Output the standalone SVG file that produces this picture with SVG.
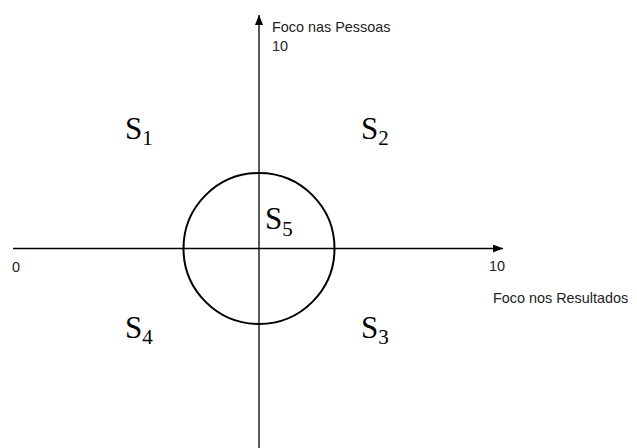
<svg xmlns="http://www.w3.org/2000/svg" width="637" height="448" viewBox="0 0 637 448">
<style>
.lbl{font-family:"Liberation Sans",Arial,sans-serif;font-size:14.4px;fill:#222}
.s{font-family:"Liberation Serif","DejaVu Serif",serif;font-size:31px;fill:#000}
.sub{font-size:21px}
.ax{stroke:#000;stroke-width:1.3;fill:none}
</style>
<defs>
<marker id="ah" markerWidth="10" markerHeight="8" refX="10" refY="4" orient="auto" markerUnits="userSpaceOnUse">
<path d="M0,0 L10,4 L0,8 Z" fill="#000"/>
</marker>
</defs>
<rect width="637" height="448" fill="#fff"/>
<g id="connectors">
<line class="ax" x1="13" y1="248.5" x2="503" y2="248.5" marker-end="url(#ah)"/>
<line class="ax" x1="259" y1="448" x2="259" y2="15" marker-end="url(#ah)"/>
</g>
<g id="circle-s5">
<circle cx="259" cy="248.5" r="75.5" fill="none" stroke="#000" stroke-width="2"/>
<text class="s" x="265" y="229">S<tspan class="sub" dy="7">5</tspan></text>
</g>
<g id="s1"><text class="s" x="125" y="139">S<tspan class="sub" dy="6">1</tspan></text></g>
<g id="s2"><text class="s" x="361" y="139">S<tspan class="sub" dy="6">2</tspan></text></g>
<g id="s4"><text class="s" x="125" y="338">S<tspan class="sub" dy="6">4</tspan></text></g>
<g id="s3"><text class="s" x="361" y="338">S<tspan class="sub" dy="6">3</tspan></text></g>
<g id="labels">
<text class="lbl" x="272" y="32">Foco nas Pessoas</text>
<text class="lbl" x="272" y="51">10</text>
<text class="lbl" x="12" y="272">0</text>
<text class="lbl" x="489" y="271">10</text>
<text class="lbl" x="493" y="303">Foco nos Resultados</text>
</g>
</svg>
